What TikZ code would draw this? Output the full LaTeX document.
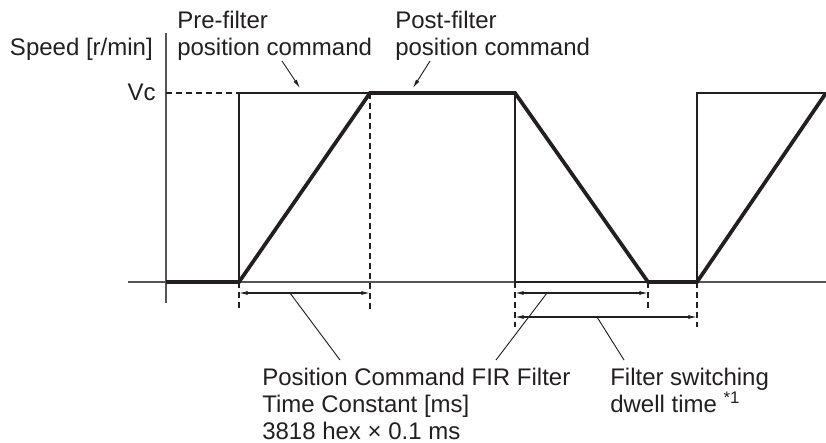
\documentclass[tikz,border=0pt]{standalone}
\usepackage{fontspec}
\setmainfont{Liberation Sans}
\usetikzlibrary{arrows.meta}
\definecolor{Ink}{HTML}{231F20}
\definecolor{Axis}{HTML}{555555}

\begin{document}
\begin{tikzpicture}[x=0.75pt,y=-0.75pt,
  lbl/.style={font=\fontsize{18}{20.25}\selectfont,text=Ink,inner sep=0pt},
  axline/.style={Axis,line width=0.8pt},
  cmdline/.style={Ink,line width=1pt},
  filtline/.style={Ink,line width=2.8pt},
  guide/.style={Ink,line width=0.8pt,dash pattern=on 4.5pt off 3pt},
  dimarrow/.style={Ink,line width=0.8pt,{Latex[length=6.5pt,width=3pt]}-{Latex[length=6.5pt,width=3pt]}},
  leader/.style={Ink,line width=0.7pt},
  pointer/.style={Ink,line width=0.7pt,-{Latex[length=6.5pt,width=3pt]}}]
  \useasboundingbox (0,0) rectangle (826,443);
  \coordinate (o)  at (166,282);
  \coordinate (a0) at (239,282);
  \coordinate (a1) at (239,93);
  \coordinate (b1) at (370,93);
  \coordinate (c1) at (515,93);
  \coordinate (c0) at (515,282);
  \coordinate (d0) at (648,282);
  \coordinate (e0) at (697,282);
  \coordinate (e1) at (697,93);
  \coordinate (f1) at (826,93);
  \coordinate (vc) at (166,93);
  \draw[axline] (128,282) -- (826,282);
  \draw[axline] (166,33) -- (166,303);
  \node[lbl,anchor=base east] (speed) at (153,55) {Speed [r/min]};
  \node[lbl,anchor=base east] (vclab) at (156,100) {Vc};
  \draw[guide] (vc) -- (a1);
  \foreach \nm/\x/\y in {a2/239/310,b2/370/310,c2/515/327,d2/648/310,e2/697/327}
    \coordinate (\nm) at (\x,\y);
  \draw[guide] (b1) -- (b2);
  \draw[guide] (a0) -- (a2);
  \draw[guide] (c0) -- (c2);
  \draw[guide] (d0) -- (d2);
  \draw[guide] (e0) -- (e2);
  \draw[cmdline] (a0) -- (a1) -- (c1) -- (c0) -- (e0) -- (e1) -- (f1);
  \draw[filtline] (o) -- (a0) -- (b1) -- (c1) -- (d0) -- (e0) -- (f1);
  \coordinate (p1) at (239,293);
  \coordinate (p2) at (370,293);
  \coordinate (q1) at (515,293);
  \coordinate (q2) at (648,293);
  \coordinate (r1) at (515,317);
  \coordinate (r2) at (697,317);
  \draw[dimarrow] (p1) -- (p2);
  \draw[dimarrow] (q1) -- (q2);
  \draw[dimarrow] (r1) -- (r2);
  \node[lbl,anchor=north west,align=left] (prelab) at (177,10.5) {Pre-filter\\position command};
  \node[lbl,anchor=north west,align=left] (postlab) at (395,10.5) {Post-filter\\position command};
  \node[lbl,anchor=north west,align=left] (firlab) at (262,367.5) {Position Command FIR Filter\\Time Constant [ms]\\3818 hex × 0.1 ms};
  \node[lbl,anchor=north west,align=left] (dwelllab) at (610,367.5) {Filter switching\\dwell time \textsuperscript{*1}};
  \coordinate (pres) at (282,61);
  \coordinate (pree) at (300,88);
  \coordinate (posts) at (430,61);
  \coordinate (poste) at (413,88);
  \draw[pointer] (pres) -- (pree);
  \draw[pointer] (posts) -- (poste);
  \coordinate (m1) at (290,293);
  \coordinate (n1) at (340,360);
  \coordinate (m2) at (547,293);
  \coordinate (n2) at (496,360);
  \coordinate (m3) at (597,317);
  \coordinate (n3) at (624,360);
  \draw[leader] (m1) -- (n1);
  \draw[leader] (m2) -- (n2);
  \draw[leader] (m3) -- (n3);
\end{tikzpicture}
\end{document}
